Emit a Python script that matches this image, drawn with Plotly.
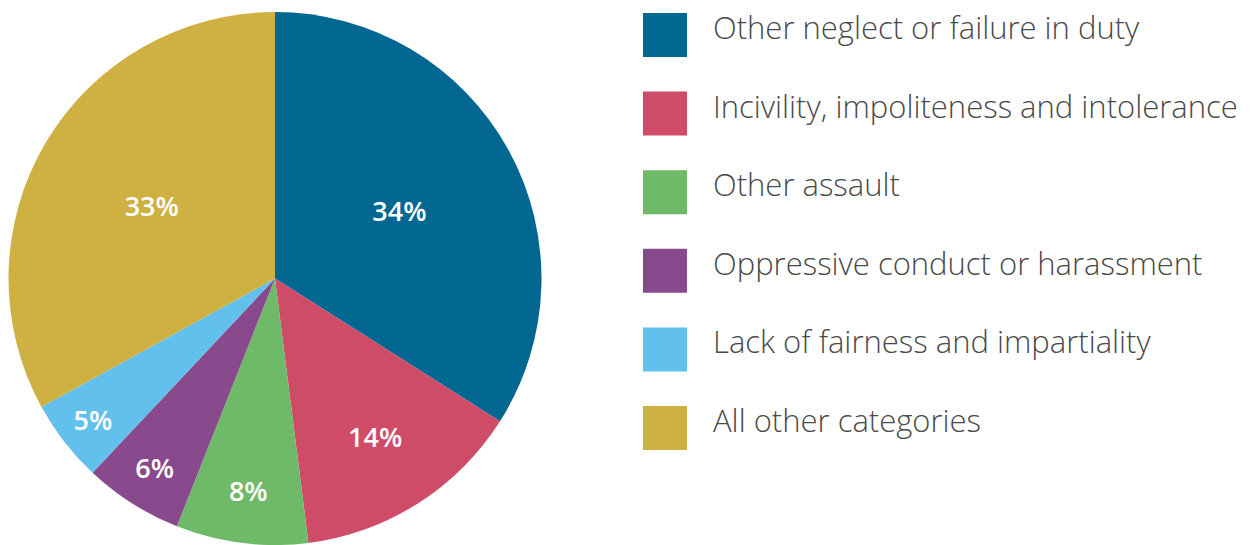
import plotly.graph_objects as go

categories = [
    "Other neglect or failure in duty",
    "Incivility, impoliteness and intolerance",
    "Other assault",
    "Oppressive conduct or harassment",
    "Lack of fairness and impartiality",
    "All other categories",
]
values = [34, 14, 8, 6, 5, 33]
colors = ["#026791", "#CF4C68", "#6EBA69", "#884A8D", "#62C0EC", "#CFB042"]

W, H = 1252, 545

fig = go.Figure()
fig.add_trace(go.Pie(
    labels=categories,
    values=values,
    sort=False,
    direction="clockwise",
    rotation=0,
    marker=dict(colors=colors, line=dict(width=0)),
    texttemplate="%{value}%",
    textposition="inside",
    insidetextorientation="horizontal",
    textfont=dict(family="Open Sans", size=27, color="white", weight=600),
    domain=dict(x=[8.5 / W, 541.5 / W], y=[0, 0.978]),
    showlegend=False,
    hoverinfo="label+percent",
))

# custom legend (large swatches)
top0 = 13
step = 78.6
sq = 44
for i, (lab, col) in enumerate(zip(categories, colors)):
    t = top0 + i * step
    fig.add_shape(type="rect", xref="paper", yref="paper",
                  x0=643 / W, x1=(643 + sq) / W,
                  y0=1 - (t + sq) / H, y1=1 - t / H,
                  fillcolor=col, line=dict(width=0))
    fig.add_annotation(xref="paper", yref="paper",
                       x=711 / W, y=1 - (t + 14) / H,
                       text=lab, showarrow=False,
                       xanchor="left", yanchor="middle",
                       font=dict(family="Open Sans", size=31, color="#4a4a4a", weight=300))

fig.update_layout(
    width=W, height=H,
    margin=dict(l=0, r=0, t=0, b=0),
    paper_bgcolor="white",
    plot_bgcolor="white",
)

fig.write_html("out.html",
               config={"displayModeBar": False},
               post_script="document.body.style.margin='0';document.body.style.overflow='hidden';")
